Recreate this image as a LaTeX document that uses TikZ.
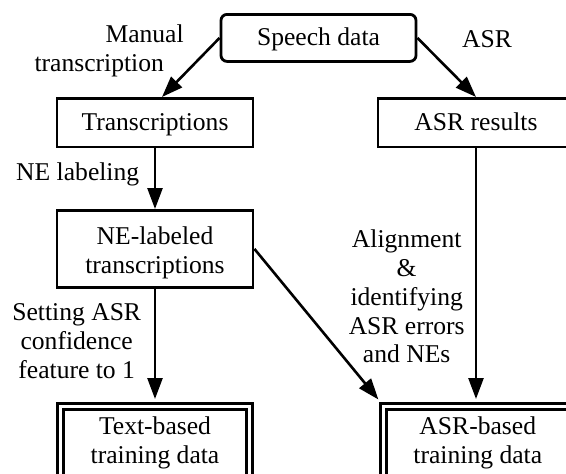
\documentclass[tikz,border=0pt]{standalone}
\usepackage{fontspec}
\setmainfont{Liberation Serif}
\usetikzlibrary{arrows.meta,calc}
% invisible struts fixing the height of a first line and the depth of a last line
\newcommand\upstrut[1]{\rule{0pt}{#1pt}}
\newcommand\dnstrut[1]{\rule[-#1pt]{0pt}{#1pt}}
\begin{document}
\begin{tikzpicture}[x=1pt,y=-1pt,
  font=\fontsize{25.6}{28.7}\selectfont,
  box/.style={draw, line width=2.8pt, inner sep=0pt, align=center, anchor=north},
  roundbox/.style={box, rounded corners=6pt},
  dblbox/.style={box, line width=2.8pt, double, double distance=3.4pt},
  lbl/.style={inner sep=0pt},
  flow/.style={line width=2.6pt, -{Triangle[length=21pt,width=15pt]}}]
\useasboundingbox (0,0) rectangle (566,474);
\clip (0,0) rectangle (566,474);

% data boxes
\node[roundbox, minimum width=195pt] (speech) at (318.5,13) {\upstrut{31}\dnstrut{16}Speech data};
\node[box, minimum width=196pt] (trans) at (155,97) {\upstrut{32.5}\dnstrut{16}Transcriptions};
\node[box, minimum width=196pt] (asrres) at (476,97) {\upstrut{32.5}\dnstrut{16}ASR results};
\node[box, minimum width=196pt] (nelab) at (155,209) {\upstrut{34.3}NE-labeled\\transcriptions\dnstrut{14}};
\node[dblbox, minimum width=189pt] (textb) at (155,405) {\upstrut{28.3}Text-based\\training data\dnstrut{18}};
\node[dblbox, minimum width=189pt] (asrb) at (477.8,405) {\upstrut{28.3}ASR-based\\training data\dnstrut{18}};

% step labels
\node[lbl, align=left, anchor=north west] (lman) at (34.3,22.3) {\hspace*{71pt}\upstrut{20}Manual\\transcription};
\node[lbl, anchor=base west] (lasr) at (462,47.5) {ASR};
\node[lbl, anchor=base west] (lne) at (16,180) {NE labeling};
\node[lbl, align=center, anchor=north] (lalign) at (406.7,227.7) {\upstrut{20}Alignment\\\&\\identifying\\ASR errors\\and NEs};
\node[lbl, align=center, anchor=north] (lset) at (76.7,300.7) {\upstrut{20}Setting ASR\\confidence\\feature to 1};

% flow arrows
\draw[flow] (speech.west) -- ([xshift=7pt]trans.north);
\draw[flow] (speech.east) -- (asrres.north);
\draw[flow] (trans.south) -- (nelab.north);
\draw[flow] (asrres.south) -- ($(asrres.south |- asrb.north)+(0,-6)$);
\draw[flow] (nelab.south) -- ($(textb.north)+(0,-6)$);
\draw[flow] (nelab.east) -- ($(asrb.north west)+(-3.5,-5.5)$);
\end{tikzpicture}
\end{document}
